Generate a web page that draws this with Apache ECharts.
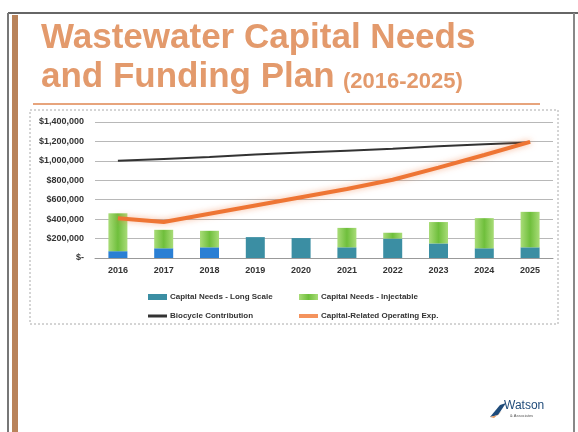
<!DOCTYPE html>
<html>
<head>
<meta charset="utf-8">
<script src="https://cdn.jsdelivr.net/npm/echarts@6/dist/echarts.min.js"></script>
<style>
  html, body { margin: 0; padding: 0; background: #ffffff; }
  #chart { width: 578px; height: 432px; }
</style>
</head>
<body>
<div id="chart"></div>
<script>
// Planning years
const years = ['2016', '2017', '2018', '2019', '2020', '2021', '2022', '2023', '2024', '2025'];

// Capital needs, split in two stacked parts ($)
const capitalLongScale = [70000, 100000, 110000, 215000, 205000, 110000, 200000, 150000, 100000, 110000];
const capitalInjectable = [390000, 190000, 170000, 0, 0, 200000, 60000, 220000, 310000, 365000];

// Contribution and operating-expense lines ($)
const biocycleContribution = [1000000, 1020000, 1040000, 1065000, 1085000, 1105000, 1125000, 1150000, 1170000, 1190000];
const capitalOpExp = [410000, 370000, 455000, 540000, 625000, 710000, 805000, 930000, 1060000, 1195000];

// Y axis ticks
const yMax = 1400000;
const yStep = 200000;

const seriesNames = [
  'Capital Needs - Long Scale',
  'Capital Needs - Injectable',
  'Biocycle Contribution',
  'Capital-Related Operating Exp.'
];

const chart = echarts.init(document.getElementById('chart'), null, { renderer: 'canvas' });

const fontFam = '"Liberation Sans", Arial, sans-serif';
const blueEarly = '#2a7fd4';
const tealLate = '#3b8ea3';
const greenFill = {
  type: 'linear', x: 0, y: 0, x2: 1, y2: 0,
  colorStops: [
    { offset: 0, color: '#a9dc78' },
    { offset: 0.5, color: '#6fbf3c' },
    { offset: 1, color: '#a9dc78' }
  ]
};

function legendAt(name, left, top, h) {
  return {
    data: [name],
    left: left,
    top: top,
    icon: 'rect',
    itemWidth: 19,
    itemHeight: h,
    itemGap: 3,
    textStyle: { fontFamily: fontFam, fontSize: 8, fontWeight: 'bold', color: '#333', padding: [0, 0, 0, -2] },
    selectedMode: false
  };
}

const option = {
  backgroundColor: '#ffffff',
  animation: false,
  grid: { left: 95, right: 25, top: 122, bottom: 174, containLabel: false },
  legend: [
    legendAt(seriesNames[0], 143, 288, 6),
    legendAt(seriesNames[1], 294, 288, 6),
    legendAt(seriesNames[2], 143, 307, 3),
    legendAt(seriesNames[3], 294, 307, 4)
  ],
  xAxis: {
    type: 'category',
    data: years,
    axisLine: { lineStyle: { color: '#999', width: 1 } },
    axisTick: { show: false },
    axisLabel: { fontFamily: fontFam, fontSize: 9, fontWeight: 'bold', color: '#333', margin: 8 }
  },
  yAxis: {
    type: 'value',
    min: 0,
    max: yMax,
    interval: yStep,
    axisLine: { show: false },
    axisTick: { show: false },
    splitLine: { lineStyle: { color: '#b8b8b8', width: 1 } },
    axisLabel: {
      fontFamily: fontFam, fontSize: 9, fontWeight: 'bold', color: '#333', margin: 11,
      formatter: v => v === 0 ? '$-' : '$' + v.toLocaleString('en-US')
    }
  },
  series: [
    {
      name: seriesNames[0],
      type: 'bar',
      stack: 'capital',
      barWidth: 19,
      itemStyle: { color: tealLate },
      data: capitalLongScale.map((v, i) => ({
        value: v,
        itemStyle: { color: i < 3 ? blueEarly : tealLate }
      }))
    },
    {
      name: seriesNames[1],
      type: 'bar',
      stack: 'capital',
      barWidth: 19,
      itemStyle: { color: greenFill },
      data: capitalInjectable
    },
    {
      name: seriesNames[2],
      type: 'line',
      data: biocycleContribution,
      symbol: 'none',
      itemStyle: { color: '#333' },
      lineStyle: { color: '#333', width: 2 },
      z: 3
    },
    {
      name: seriesNames[3],
      type: 'line',
      data: capitalOpExp,
      symbol: 'none',
      itemStyle: { color: '#f4935d' },
      lineStyle: {
        color: '#ee7534', width: 4,
        shadowColor: 'rgba(240, 120, 60, 0.55)', shadowBlur: 6
      },
      z: 4
    }
  ],
  graphic: [
    // slide frame
    { type: 'line', shape: { x1: 8, y1: 13, x2: 578, y2: 13 }, style: { stroke: '#666', lineWidth: 2 }, silent: true },
    { type: 'line', shape: { x1: 8, y1: 13, x2: 8, y2: 432 }, style: { stroke: '#777', lineWidth: 2 }, silent: true },
    { type: 'rect', shape: { x: 12, y: 15, width: 6, height: 417 }, style: { fill: '#b9835a' }, silent: true },
    { type: 'line', shape: { x1: 574, y1: 13, x2: 574, y2: 432 }, style: { stroke: '#888', lineWidth: 2 }, silent: true },
    // title
    {
      type: 'text', left: 41, top: 21,
      style: { text: 'Wastewater Capital Needs', font: 'bold 35px "Liberation Sans", Arial, sans-serif', fill: '#e39a6c' }
    },
    {
      type: 'text', left: 41, top: 60,
      style: { text: 'and Funding Plan', font: 'bold 35px "Liberation Sans", Arial, sans-serif', fill: '#e39a6c' }
    },
    {
      type: 'text', left: 343, top: 71,
      style: { text: '(2016-2025)', font: 'bold 22px "Liberation Sans", Arial, sans-serif', fill: '#e39a6c' }
    },
    // rule under title
    { type: 'line', shape: { x1: 33, y1: 104, x2: 540, y2: 104 }, style: { stroke: '#e7a47c', lineWidth: 2 }, silent: true },
    // chart box
    { type: 'rect', shape: { x: 30, y: 110, width: 528, height: 214 }, style: { fill: 'none', stroke: '#aaa', lineWidth: 1, lineDash: [2, 2] }, silent: true },
    // logo
    {
      type: 'group', left: 490, top: 400,
      children: [
        { type: 'polygon', shape: { points: [[0, 18], [10, 6], [16, 4], [8, 16]] }, style: { fill: '#1f4b7a' } },
        { type: 'polygon', shape: { points: [[0, 18], [8, 16], [12, 12], [4, 19]] }, style: { fill: '#e69a62' } },
        { type: 'text', x: 14, y: 1, style: { text: 'Watson', font: '12px "Liberation Sans", Arial, sans-serif', fill: '#1f4b7a' } },
        { type: 'text', x: 20, y: 15, style: { text: '& Associates', font: '4px "Liberation Sans", Arial, sans-serif', fill: '#555' } }
      ]
    }
  ]
};

chart.setOption(option);
</script>
</body>
</html>
